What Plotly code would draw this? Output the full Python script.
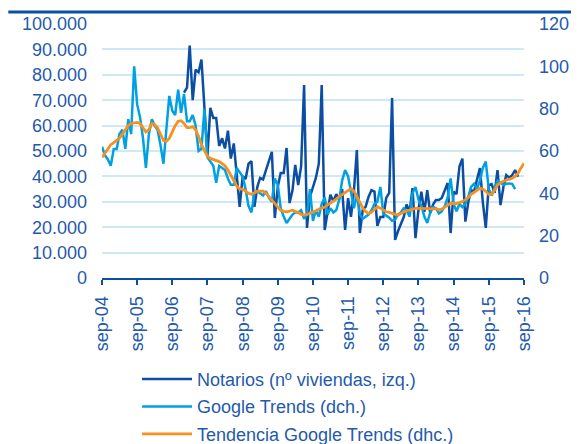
import pandas as pd
import plotly.graph_objects as go

# monthly series, sep-04 onwards
start = '2004-09-01'

# Google Trends (right axis), sep-04 .. jul-16
google = [62, 58, 56, 53, 61, 61, 68, 70, 61, 75, 68, 100, 82, 76, 66, 52, 68, 75, 72, 70,
          63, 54, 70, 86, 79, 77, 89, 78, 87, 74, 74, 77, 72, 60, 61, 80, 57, 55, 53, 45,
          53, 52, 51, 47, 44, 44, 52, 50,
          48, 42, 34, 31, 40, 41, 40, 39, 41, 38, 36, 47, 44, 33, 29, 26, 28, 30, 31, 31,
          32, 28, 30, 42, 27, 32, 29, 35, 38, 30, 33, 31, 32, 37, 46, 51, 48, 41, 33, 40,
          30, 28, 29, 30, 32, 35, 36, 43,
          30.5, 29.7, 28.5, 27, 27.5, 30, 31, 33, 32, 29, 40, 43, 37, 34, 29, 26, 31, 33.5, 33, 30.5,
          31.5, 34, 38, 47, 35, 31.5, 35, 33.5, 35, 38.5, 43, 44.5, 42, 46, 52, 55, 42, 39, 42.5, 46,
          45, 44, 44.5, 44.7, 44.5, 42]

# Notarios (left axis), jan-07 .. jul-16
notarios_start = '2007-01-01'
notarios = [73000, 75000, 91500, 70000, 82000, 81000, 86000, 67000, 48000, 67000,
            63000, 63000, 52000, 55000, 51000, 58000, 47000, 53000, 40000, 28000,
            40000, 39000, 45000, 46000, 28000, 36000, 39400, 38800, 42500, 46000,
            49700, 23600, 36000, 41300, 41300, 51200, 29500, 34600, 44500, 36600,
            43900, 76000, 19700, 32000, 36000, 39400, 45000, 76000, 18900, 25600,
            32800, 30200, 33000, 31000, 35000, 18900, 31400, 24100, 34600, 50400,
            17700, 27000, 28000, 32000, 34600, 34000, 20500, 24000,
            24000, 31500, 33500, 70900, 15000, 18500, 21000, 24000, 29000, 26000,
            35400, 15700, 27000, 34000, 26000, 34600, 25600, 29000, 30700, 30700,
            31500, 34600, 37400, 17700, 34000, 33000, 44000, 47000, 22200, 30000,
            34600, 34000, 39000, 43300, 30000, 19700, 36600, 37000, 33500, 42500,
            28700, 36000, 40500, 39500, 40500, 42500, 39900]

# Tendencia Google Trends (right axis), sep-04 .. sep-16
tendencia = [57, 59, 61, 63, 64, 65, 66, 68, 70, 72, 73, 73.4, 73.5, 73, 71, 69, 70, 73, 72.5, 71,
             68, 65, 64.5, 66, 69, 72, 74, 74.3, 73, 71, 71, 71.5, 70, 67, 63, 60, 57.5, 56.5, 56, 55.5,
             55, 54, 53, 51, 48.5, 46, 43.5, 42,
             42, 41, 40, 39.6, 40.5, 41, 41, 41, 40, 38.5, 37, 35.3, 33.5, 32, 31.5, 31.3, 31.6, 32, 31.5, 31,
             30, 29.7, 30, 30.5, 31, 31.8, 32.5, 33, 33.5, 34.5, 35.3, 36.3, 37.3, 38.5, 39.5, 40.5, 41.5, 42.3, 41, 38.5,
             35.5, 33, 31.5, 30.5, 31, 32.5, 33.7, 33,
             32, 31.3, 31, 30.5, 30, 29.7, 30.5, 31.3, 31.8, 32.1, 32.5, 32.9, 32.9, 32.9, 32.9, 32.9, 32.9, 32.9, 32.7, 32.3,
             32.5, 33.5, 34.5, 35.3, 35.2, 35.2, 35.6, 36.1, 37, 38, 39.5, 40.5, 41.6, 42.4, 42, 41, 39.5, 39.5, 41.5, 44,
             45, 45.8, 46.3, 46.6, 47.1, 48, 49.5, 52, 54.2]

tick_dates = pd.date_range('2004-09-01', '2016-09-01', freq='12MS')
tick_labels = ['sep-04', 'sep-05', 'sep-06', 'sep-07', 'sep-08', 'sep-09', 'sep-10',
               'sep-11', 'sep-12', 'sep-13', 'sep-14', 'sep-15', 'sep-16']

x_google = pd.date_range(start, periods=len(google), freq='MS')
x_notarios = pd.date_range(notarios_start, periods=len(notarios), freq='MS')
x_tendencia = pd.date_range(start, periods=len(tendencia), freq='MS')

DARK = '#0b4ea2'
LIGHT = '#00a0e3'
ORANGE = '#f7901e'
TEXT = '#1f5aac'
GRID = '#cde9f6'
FONT = 'Liberation Sans, Arial, sans-serif'

fig = go.Figure()

fig.add_trace(go.Scatter(x=x_google, y=google, mode='lines', name='Google Trends (dch.)',
                         line=dict(color=LIGHT, width=2.5), yaxis='y2',
                         legendrank=2, legendgroup='b'))
fig.add_trace(go.Scatter(x=x_notarios, y=notarios, mode='lines',
                         name='Notarios (nº viviendas, izq.)',
                         line=dict(color=DARK, width=2.5), legendrank=1, legendgroup='a'))
fig.add_trace(go.Scatter(x=x_tendencia, y=tendencia, mode='lines',
                         name='Tendencia Google Trends (dhc.)',
                         line=dict(color=ORANGE, width=2.8), yaxis='y2',
                         legendrank=3, legendgroup='c'))

# the page puts the figure 8px in from the top-left, so the figure is 8px smaller
fig.update_layout(
    width=571, height=436,
    margin=dict(l=94, r=55, t=16, b=166, autoexpand=False),
    paper_bgcolor='white', plot_bgcolor='white',
    font=dict(family=FONT, size=18, color=TEXT),
    separators=',.',
    showlegend=True,
    legend=dict(x=0.083, y=-0.326, xanchor='left', yanchor='top',
                tracegroupgap=1, itemwidth=50, font=dict(size=18, color=TEXT),
                bgcolor='rgba(0,0,0,0)'),
    xaxis=dict(range=['2004-09-01', '2016-09-01'], tickvals=tick_dates, ticktext=tick_labels,
               tickangle=-90, ticks='outside', ticklen=5, tickwidth=2, tickcolor=DARK,
               showline=True, linecolor=DARK, linewidth=2, showgrid=False,
               zeroline=False, ticklabelstandoff=4, automargin=False),
    yaxis=dict(range=[0, 100000], dtick=10000, tickformat=',d', showgrid=True,
               gridcolor=GRID, gridwidth=1.5, zeroline=False, showline=False,
               ticklabelstandoff=14, automargin=False),
    yaxis2=dict(range=[0, 120], dtick=20, overlaying='y', side='right', showgrid=False,
                zeroline=False, showline=False, ticklabelstandoff=14, automargin=False),
    shapes=[dict(type='line', xref='paper', yref='paper', x0=-0.222, x1=1.13,
                 y0=1.047, y1=1.047, line=dict(color=DARK, width=3))],
)

fig.write_html('out.html')
